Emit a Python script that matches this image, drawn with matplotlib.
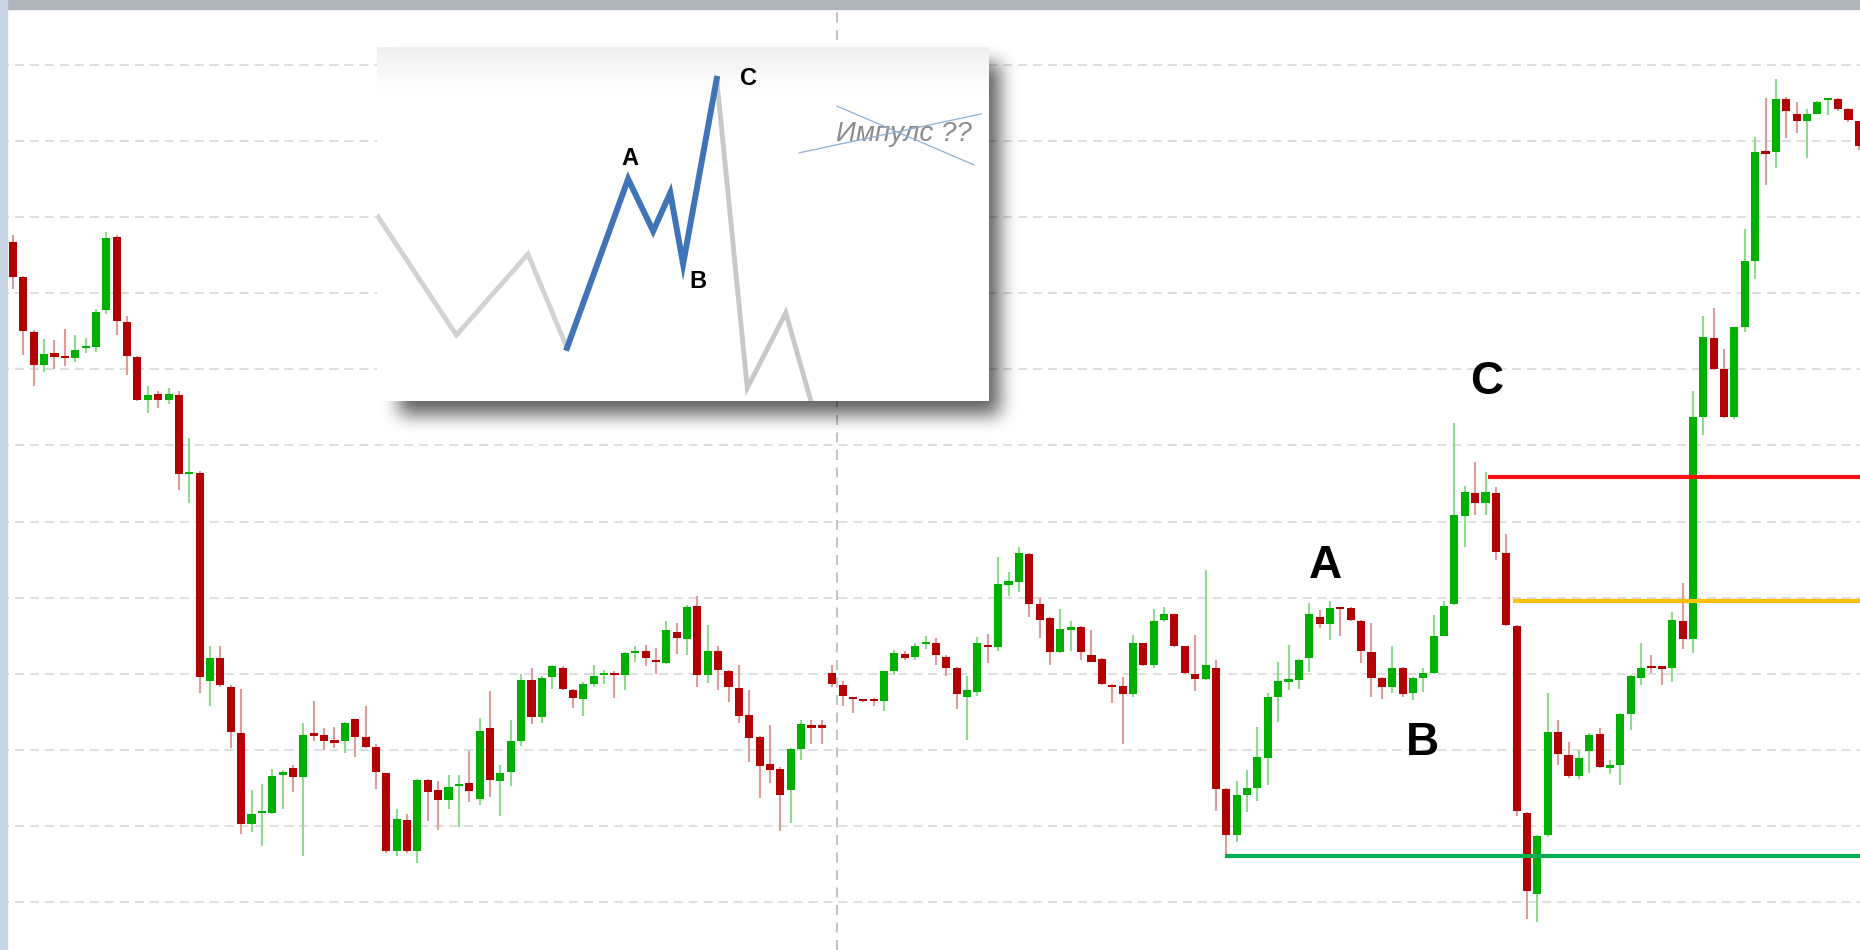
import numpy as np
import matplotlib.pyplot as plt
from matplotlib.patches import Rectangle

plt.rcParams['font.family'] = ['Liberation Sans', 'DejaVu Sans']

# OHLC (price scale: one grid step = 10)
opens = [186.8, 182.1, 174.9, 170.6, 172.1, 171.7, 171.5, 172.8, 172.9, 177.8,
         187.4, 176.2, 171.6, 166.0, 166.8, 166.0, 166.6, 156.3, 156.4, 129.1,
         132.1, 128.3, 122.2, 110.2, 111.7, 111.7, 116.7, 117.6, 116.4, 122.1,
         122.0, 121.2, 121.1, 124.0, 121.7, 120.4, 116.9, 106.7, 110.8, 106.7,
         116.0, 114.7, 113.4, 115.3, 115.7, 113.5, 122.9, 115.9, 117.1, 121.2,
         129.2, 124.3, 129.6, 130.8, 127.9, 126.7, 128.7, 129.9, 130.1, 129.8,
         132.8, 133.0, 131.8, 131.4, 135.5, 134.5, 138.9, 129.8, 133.0, 130.4,
         128.1, 124.6, 121.7, 118.1, 117.5, 114.7, 120.1, 123.3, 123.3, 130.1,
         128.5, 126.9, 126.6, 126.6, 126.4, 130.4, 132.6, 132.2, 133.9, 134.1,
         132.2, 130.7, 127.0, 127.6, 133.8, 133.5, 141.7, 142.1, 145.7, 139.2,
         137.3, 132.8, 135.9, 136.2, 132.5, 131.9, 128.5, 128.4, 127.3, 134.0,
         131.1, 137.0, 137.8, 133.6, 129.9, 129.3, 130.8, 114.8, 108.8, 114.0,
         115.0, 118.9, 127.0, 129.0, 129.2, 132.0, 137.4, 136.5, 138.7, 138.7,
         136.9, 132.8, 129.5, 128.2, 130.8, 127.4, 129.4, 130.1, 135.0, 139.1,
         150.7, 153.7, 152.4, 153.7, 145.9, 136.3, 111.7, 101.0, 108.8, 122.3,
         119.3, 116.5, 119.9, 122.1, 117.7, 118.0, 124.7, 129.5, 131.0, 130.9,
         130.8, 136.9, 134.5, 163.7, 174.1, 170.0, 163.7, 175.5, 184.3, 198.6,
         198.5, 205.5, 203.6, 202.6, 203.6, 205.4, 205.5, 204.2, 202.6]
highs = [187.6, 182.3, 175.2, 174.0, 173.8, 175.3, 174.5, 174.1, 177.9, 188.1,
         187.6, 177.0, 171.8, 167.8, 167.2, 167.6, 167.1, 161.0, 156.6, 133.7,
         133.7, 128.5, 128.0, 114.7, 115.5, 117.5, 117.4, 118.0, 123.5, 126.4,
         122.9, 123.0, 123.7, 124.1, 125.7, 120.7, 117.0, 112.2, 111.5, 116.2,
         116.1, 115.9, 116.7, 116.7, 119.8, 124.2, 127.7, 118.0, 123.9, 130.0,
         130.7, 129.7, 131.1, 131.0, 128.0, 128.9, 131.1, 130.5, 130.4, 132.8,
         133.7, 133.8, 133.4, 136.9, 136.7, 139.0, 140.2, 136.4, 133.7, 130.5,
         131.2, 127.9, 121.8, 123.2, 117.8, 120.2, 123.9, 123.9, 123.9, 131.2,
         129.0, 127.0, 126.7, 126.8, 130.4, 133.1, 133.0, 134.1, 135.0, 134.7,
         132.5, 130.9, 129.7, 134.8, 135.2, 145.3, 143.4, 146.7, 145.8, 140.0,
         137.4, 138.5, 136.9, 136.3, 135.7, 132.0, 128.6, 129.6, 135.1, 134.1,
         138.5, 138.8, 137.9, 133.7, 135.1, 143.6, 131.8, 115.0, 115.9, 117.4,
         123.0, 127.4, 131.5, 133.8, 131.9, 139.3, 138.4, 139.5, 138.8, 138.8,
         137.0, 136.7, 129.6, 133.6, 130.9, 129.6, 130.7, 137.7, 139.5, 162.9,
         154.7, 157.8, 156.5, 154.5, 148.3, 136.4, 111.8, 108.8, 127.4, 123.9,
         121.0, 120.0, 122.2, 122.8, 118.6, 124.8, 129.8, 134.0, 132.5, 131.0,
         138.1, 141.9, 167.2, 177.0, 178.1, 172.7, 175.6, 188.4, 200.6, 205.6,
         208.2, 205.8, 205.1, 204.2, 205.3, 205.7, 205.6, 204.3, 202.7]
lows = [180.6, 171.9, 167.8, 169.6, 170.1, 170.4, 171.0, 172.1, 172.3, 177.3,
        174.5, 169.2, 165.8, 164.2, 164.9, 165.4, 154.1, 152.5, 127.4, 125.7,
        128.3, 120.3, 109.0, 109.2, 107.4, 111.5, 112.2, 114.5, 106.0, 121.2,
        120.0, 120.3, 119.6, 119.1, 120.3, 114.8, 106.5, 106.0, 106.4, 105.1,
        110.6, 109.5, 112.2, 109.9, 113.1, 112.7, 113.8, 111.3, 115.3, 120.5,
        123.4, 123.5, 128.0, 127.8, 125.5, 124.5, 128.3, 128.6, 126.8, 127.8,
        131.5, 131.0, 130.0, 131.3, 132.6, 132.4, 128.2, 128.8, 127.9, 126.3,
        123.5, 118.4, 113.7, 115.6, 109.3, 110.4, 118.6, 120.8, 120.8, 128.2,
        125.8, 124.9, 126.3, 125.8, 125.1, 129.8, 131.8, 131.8, 133.2, 131.1,
        129.7, 125.4, 121.3, 127.1, 131.4, 133.0, 140.2, 140.7, 137.4, 134.7,
        131.2, 132.7, 133.0, 131.8, 131.5, 128.5, 126.2, 120.7, 127.0, 131.0,
        130.8, 136.8, 133.5, 130.0, 127.7, 129.2, 112.0, 105.8, 107.9, 111.8,
        113.3, 115.4, 123.7, 127.9, 128.0, 130.2, 136.0, 134.4, 135.0, 136.9,
        131.4, 127.0, 126.7, 127.4, 127.0, 126.6, 127.6, 130.0, 134.9, 139.0,
        146.6, 150.9, 150.8, 145.0, 136.3, 111.3, 97.8, 97.4, 108.5, 118.0,
        116.3, 116.2, 116.9, 117.6, 116.8, 115.4, 122.6, 128.5, 130.1, 128.5,
        128.9, 133.3, 132.7, 161.4, 169.9, 163.6, 163.5, 174.9, 181.9, 194.2,
        196.4, 200.4, 201.0, 197.8, 203.5, 203.4, 203.9, 202.5, 198.8]
closes = [182.2, 175.1, 170.6, 172.0, 171.6, 171.5, 172.5, 173.0, 177.5, 187.3,
          176.4, 171.8, 166.0, 166.6, 166.0, 166.8, 156.2, 156.5, 129.6, 132.1,
          128.5, 122.3, 110.2, 111.5, 111.9, 116.5, 117.1, 116.4, 121.9, 121.9,
          121.1, 121.0, 123.5, 121.7, 120.4, 117.1, 106.7, 110.9, 106.7, 116.0,
          114.5, 113.4, 115.1, 115.5, 114.6, 122.5, 116.0, 117.0, 121.1, 129.2,
          124.3, 129.5, 131.0, 128.0, 126.8, 128.7, 129.7, 130.1, 129.9, 132.7,
          133.0, 132.1, 131.6, 135.7, 134.7, 138.8, 129.8, 133.0, 130.5, 128.2,
          124.5, 121.6, 117.9, 117.3, 114.1, 120.1, 123.4, 122.9, 122.9, 128.6,
          127.1, 126.7, 126.4, 126.4, 130.3, 132.7, 132.0, 133.7, 134.1, 132.4,
          130.8, 127.3, 127.8, 134.0, 133.5, 141.8, 142.2, 145.9, 139.2, 137.1,
          132.9, 135.9, 136.0, 132.8, 131.6, 128.7, 128.3, 127.3, 134.1, 131.1,
          136.9, 137.8, 133.6, 130.1, 129.3, 131.1, 114.8, 108.8, 114.0, 115.0,
          119.0, 127.0, 129.0, 129.2, 131.8, 137.9, 136.5, 138.7, 138.6, 137.0,
          133.0, 129.4, 128.3, 130.8, 127.3, 129.5, 130.1, 135.0, 138.9, 150.8,
          153.9, 152.4, 153.9, 146.0, 136.4, 111.9, 101.4, 108.7, 122.4, 119.4,
          116.5, 118.9, 121.9, 117.7, 117.9, 124.7, 129.7, 130.7, 130.8, 130.7,
          137.1, 134.5, 163.7, 174.3, 170.0, 163.7, 175.5, 184.3, 198.5, 198.4,
          205.5, 204.0, 202.6, 203.6, 205.2, 205.6, 204.2, 202.8, 199.4]

grid_levels = [100, 110, 120, 130, 140, 150, 160, 170, 180, 190, 200, 210]
session_break = 79.5

# horizontal levels: (price, first candle)
red_level = (155.8, 142.2)
orange_level = (139.6, 144.6)
green_level = (106.0, 116.9)

wave_labels = ['A', 'B', 'C']
wave_x = [126.6, 135.9, 142.1]
wave_y = [144.2, 120.9, 168.4]

# schematic in the inset (0..100 box units)
gray_before_x = [0.2, 13.0, 24.7, 31.1]
gray_before_y = [52.0, 18.6, 41.5, 15.0]
blue_x = [31.1, 41.1, 45.2, 48.0, 50.1, 55.6]
blue_y = [15.0, 62.7, 48.0, 58.8, 38.7, 91.0]
gray_after_x = [55.6, 60.6, 66.9, 72.0]
gray_after_y = [91.0, 3.7, 24.9, -6.0]
inset_labels = ['A', 'B', 'C']
inset_lab_x = [41.4, 52.6, 60.8]
inset_lab_y = [68.5, 33.8, 91.0]

W, H = 1860, 950
fig = plt.figure(figsize=(W / 100, H / 100), dpi=100)
fig.patch.set_facecolor('white')
ax = fig.add_axes([0, 0, 1, 1])
ax.set_zorder(0)
ax.set_xlim(-1.254, 178.11)
ax.set_ylim(93.69, 218.54)
ax.axis('off')

for g in grid_levels:
    ax.axhline(g, color='#d4d4d4', lw=1.1, ls=(0, (5.9, 3.9)), zorder=1)
ax.axvline(session_break, color='#c4c4c4', lw=1.5, ls=(0, (4.8, 3.6)), zorder=1)

o, h, l, c = map(np.array, (opens, highs, lows, closes))
idx = np.arange(len(o))
up = c >= o
body_col = np.where(up, '#00b000', '#b30000')
wick_col = np.where(up, '#8fdc8f', '#e29a9a')
ax.vlines(idx, l, h, colors=wick_col, lw=1.5, zorder=2)
hgt = np.maximum(np.abs(c - o), 0.3)
bot = (o + c) / 2 - hgt / 2
ax.bar(idx, hgt, bottom=bot, width=0.78, color=body_col, lw=0, zorder=3)

x_end = ax.get_xlim()[1]
for (lvl, start), col in zip([red_level, orange_level, green_level],
                             ['#ff1010', '#ffc000', '#00b050']):
    ax.hlines(lvl, start, x_end + 1, colors=col, lw=3.0, zorder=4)

for t, x, y in zip(wave_labels, wave_x, wave_y):
    ax.text(x, y, t, fontsize=33, fontweight='bold', ha='center', va='center',
            color='black', zorder=5)

# screenshot frame
fig.add_artist(Rectangle((0, 1 - 9 / H), 1, 9 / H, transform=fig.transFigure,
                         color='#b0b5bc', zorder=10))
fig.add_artist(Rectangle((0, 0), 7 / W, 1, transform=fig.transFigure,
                         color='#c6d4e3', zorder=10))

# inset box (pixels) and its blurred drop shadow
x0, y0, x1, y1 = 377, 47, 988, 401
rx0, ry0, rx1, ry1 = 330, 10, 1070, 480
mask = np.zeros((ry1 - ry0, rx1 - rx0))
mask[y0 + 16 - ry0:y1 + 14 - ry0, x0 + 22 - rx0:x1 + 12 - rx0] = 1.0


def box_blur(a, r, axis):
    k = np.ones(2 * r + 1) / (2 * r + 1)
    return np.apply_along_axis(lambda v: np.convolve(v, k, mode='same'), axis, a)


for _ in range(3):
    mask = box_blur(box_blur(mask, 8, 0), 8, 1)
shadow = np.zeros(mask.shape + (4,))
shadow[..., 3] = 0.62 * mask
fig.figimage(shadow, xo=rx0, yo=H - ry1, origin='upper', zorder=1)

ins = fig.add_axes([x0 / W, 1 - y1 / H, (x1 - x0) / W, (y1 - y0) / H])
ins.set_zorder(5)
ins.set_xlim(0, 100)
ins.set_ylim(0, 100)
ins.axis('off')
grad = np.ones((100, 2))
grad[:14, :] = np.linspace(0.94, 1.0, 14)[:, None]
ins.imshow(grad, extent=(0, 100, 0, 100), aspect='auto', cmap='gray',
           vmin=0, vmax=1, zorder=0)
ins.plot(gray_before_x, gray_before_y, color='#d2d2d2', lw=3.5,
         solid_joinstyle='miter', zorder=2)
ins.plot(gray_after_x, gray_after_y, color='#c8c8c8', lw=3.5,
         solid_joinstyle='miter', zorder=2)
ins.plot(blue_x, blue_y, color='#3f74b9', lw=4.3, solid_joinstyle='miter',
         zorder=3)
for t, x, y in zip(inset_labels, inset_lab_x, inset_lab_y):
    ins.text(x, y, t, fontsize=17, fontweight='bold', ha='center', va='center',
             zorder=4)
ins.text(86.2, 75.3, 'Импулс ??', fontsize=20, style='italic', color='#8c8c8c',
         ha='center', va='center', zorder=4)
ins.plot([75.3, 97.7], [83.3, 66.7], color='#8fb0d0', lw=0.9, zorder=5)
ins.plot([69.1, 98.9], [70.1, 81.1], color='#8fb0d0', lw=0.9, zorder=5)

fig.savefig('out.png', dpi=100)
